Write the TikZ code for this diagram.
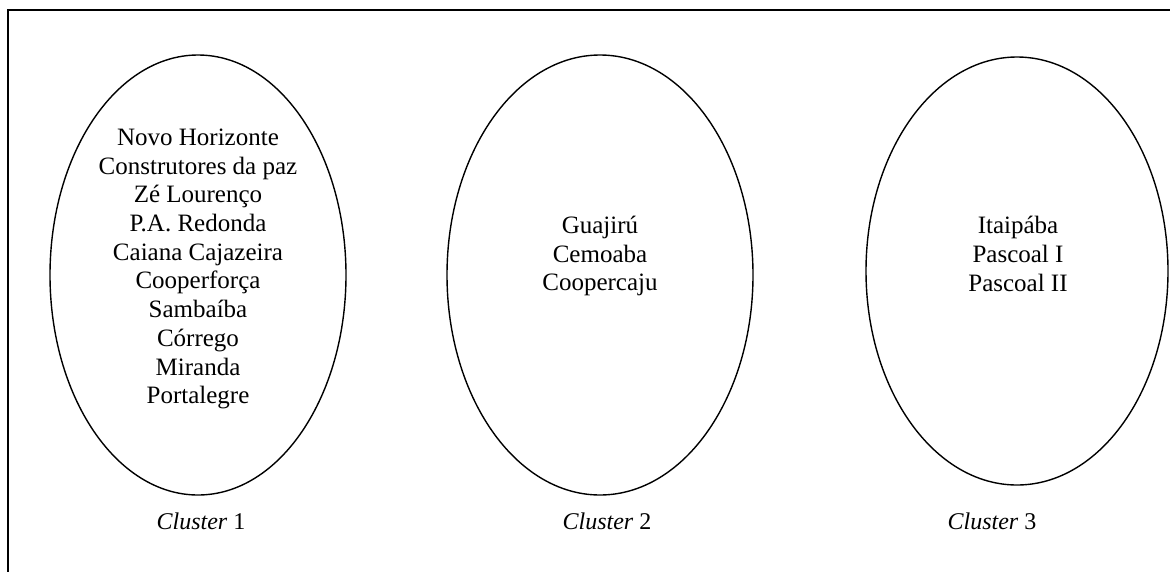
\documentclass[tikz,border=0pt]{standalone}
\usepackage{fontspec}
\setmainfont{Liberation Serif}
\usetikzlibrary{shapes.geometric}
\begin{document}
\begin{tikzpicture}[x=1pt,y=-1pt,
  clus/.style={draw, ellipse, line width=1.4pt, inner sep=0pt},
  names/.style={align=center, font=\fontsize{25}{28.7}\selectfont, inner sep=0pt},
  lab/.style={font=\fontsize{24}{28.8}\selectfont, inner sep=0pt}]
\useasboundingbox (0,0) rectangle (1170,571);
\coordinate (fr) at (1172,10);
\coordinate (fc) at (8,10);
\coordinate (fb) at (8,573);
\draw[line width=1.6pt] (fr) -- (fc) -- (fb);
\node[clus, minimum width=296pt, minimum height=440pt] (e1) at (198,275) {};
\node[clus, minimum width=306pt, minimum height=440pt] (e2) at (600,275) {};
\node[clus, minimum width=302pt, minimum height=428pt] (e3) at (1017,271) {};
\node[names] (t1) at (198,269) {Novo Horizonte\\Construtores da paz\\Zé Lourenço\\P.A. Redonda\\Caiana Cajazeira\\Cooperforça\\Sambaíba\\Córrego\\Miranda\\Portalegre};
\node[names] (t2) at (600,256) {Guajirú\\Cemoaba\\Coopercaju};
\node[names] (t3) at (1018,254) {Itaipába\\Pascoal I\\Pascoal II};
\node[lab] (c1) at (201,521) {\textit{Cluster} 1};
\node[lab] (c2) at (607,521) {\textit{Cluster} 2};
\node[lab] (c3) at (992,521) {\textit{Cluster} 3};
\end{tikzpicture}
\end{document}
